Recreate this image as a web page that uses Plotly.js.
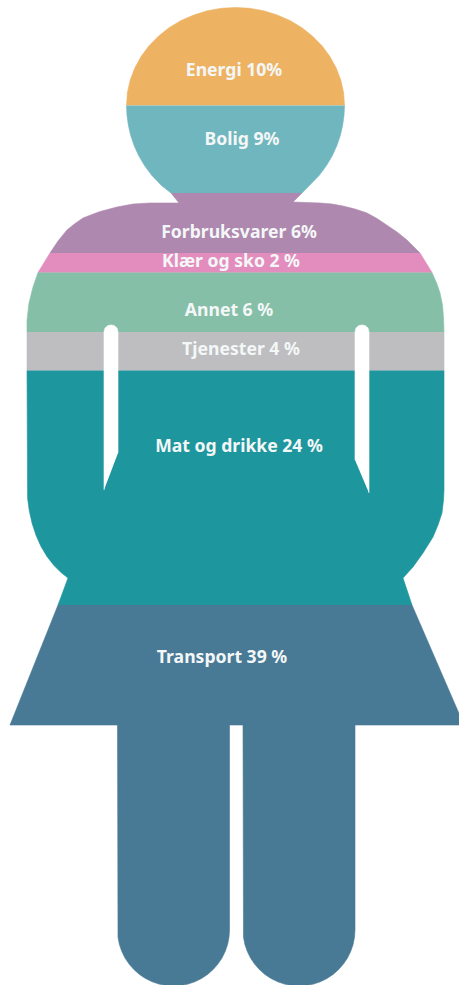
<!DOCTYPE html>
<html>
<head>
<meta charset="utf-8">
<script src="https://cdn.plot.ly/plotly-3.0.1.min.js"></script>
<style>html,body{margin:0;padding:0;background:#fff}#chart{width:459px;height:985px}</style>
</head>
<body>
<div id="chart"></div>
<script>
// Categories and labels
var categories = ["Energi","Bolig","Forbruksvarer","Klær og sko","Annet","Tjenester","Mat og drikke","Transport"];
var shares = [10,9,6,2,6,4,24,39];
var labels = ["Energi 10%","Bolig 9%","Forbruksvarer 6%","Klær og sko 2 %","Annet 6 %","Tjenester 4 %","Mat og drikke 24 %","Transport 39 %"];
var labelX = [234,242,239,231,229,241,239,222];
var labelY = [72,141,234,263,312,351,448,659];
var colors = ["#EEB263","#6FB6BE","#AE88AE","#E28DBE","#86BFA8","#BEBEC0","#1E969E","#487A96"];

// Outline of each band of the silhouette
var energiX = [126.5,127.4,130.2,134.8,141.1,149,158.4,169.1,181,193.8,207.3,221.3,235.5,249.7,263.7,277.2,290,301.9,312.6,322,329.9,336.2,340.8,343.6,344.5];
var energiY = [105.5,92.7,80.1,68,56.5,45.8,36.2,27.7,20.6,15,10.8,8.3,7.5,8.3,10.8,15,20.6,27.7,36.2,45.8,56.5,68,80.1,92.7,105.5];
var boligX = [126.5,127,128.4,130.7,134.1,138.6,144.5,151.9,161.5,171,302,309.5,319.1,326.5,332.4,336.9,340.3,342.6,344,344.5];
var boligY = [105.5,115.5,125.5,135.5,145.5,155.5,165.5,175.5,185.5,193,193,185.5,175.5,165.5,155.5,145.5,135.5,125.5,115.5,105.5];
var forbrukX = [171,179,150,133,117,100,92,83,75,67,58,50,420,414,407,397,387,377,367,355,343,332,320,293,302];
var forbrukY = [193,203,203,204,207,211.5,214.5,218,223.5,230,241,253,253,246.5,240,232,225,218.5,213,209,206,204,203,202,193];
var klaerX = [50,38,432,420];
var klaerY = [253,272.5,272.5,253];
var annetX = [38,33,29,27,27,444,443.5,442.5,440,437,432];
var annetY = [272.5,287,303,320,332,332,318,305,293,284,272.5];
var tjenesterX = [27,27,444,444];
var tjenesterY = [332,370.5,370.5,332];
var matX = [27,27,27.6,29.3,32.2,36.1,41,46.9,53.6,61,68,58,412,403,413,423,433,438,442,443.5,444,444];
var matY = [370.5,485,498.2,511.1,523.7,535.5,546.5,556.4,565.1,572.5,578,605,605,578,567,553,537,525,513,500,490,370.5];
var transportX = [58,10,117.5,117.5,118,119.4,121.8,125,129.1,133.9,139.4,145.5,152.1,159,166.2,173.5,180.8,188,194.9,201.5,207.6,213.1,217.9,222,225.2,227.6,229,229.5,229.5,243,243,243.5,244.9,247.3,250.5,254.6,259.4,264.9,271,277.6,284.5,291.7,299,306.3,313.5,320.4,327,333.1,338.6,343.4,347.5,350.7,353.1,354.5,355,355,464,412];
var transportY = [605,725,725,930,937.3,944.5,951.4,958,964.1,969.6,974.4,978.5,981.7,984.1,985.5,986,985.5,984.1,981.7,978.5,974.4,969.6,964.1,958,951.4,944.5,937.3,930,725,725,930,937.3,944.5,951.4,958,964.1,969.6,974.4,978.5,981.7,984.1,985.5,986,985.5,984.1,981.7,978.5,974.4,969.6,964.1,958,951.4,944.5,937.3,930,725,725,605];
var bandX = [energiX,boligX,forbrukX,klaerX,annetX,tjenesterX,matX,transportX];
var bandY = [energiY,boligY,forbrukY,klaerY,annetY,tjenesterY,matY,transportY];

// Gaps between the arms and the body
var gapLeftX = [104,104,105,108,111,114,117,118,118];
var gapLeftY = [490,332,328,325.5,325,325.5,328,332,453];
var gapRightX = [369,369,368,365,362,359,356,355,355];
var gapRightY = [493,332,328,325.5,325,325.5,328,332,460];

var traces = categories.map(function (name, i) {
  return {
    type: "scatter", mode: "lines", name: name,
    x: bandX[i], y: bandY[i], fill: "toself", fillcolor: colors[i],
    line: {color: colors[i], width: 0.6}, hoverinfo: "name"
  };
});
[[gapLeftX, gapLeftY], [gapRightX, gapRightY]].forEach(function (g) {
  traces.push({
    type: "scatter", mode: "lines", x: g[0], y: g[1], fill: "toself",
    fillcolor: "#FFFFFF", line: {color: "#FFFFFF", width: 0.6}, hoverinfo: "skip"
  });
});
traces.push({
  type: "scatter", mode: "text", x: labelX, y: labelY, text: labels,
  textposition: "middle center",
  textfont: {family: "'Noto Sans', 'Open Sans', sans-serif", size: 17.6, color: "#F4F7F7", weight: 700},
  hoverinfo: "skip"
});

var layout = {
  width: 459, height: 985,
  margin: {l: 0, r: 0, t: 0, b: 0},
  paper_bgcolor: "#FFFFFF", plot_bgcolor: "#FFFFFF",
  showlegend: false,
  xaxis: {range: [0, 459], visible: false, fixedrange: true},
  yaxis: {range: [985, 0], visible: false, fixedrange: true}
};
Plotly.newPlot("chart", traces, layout, {displayModeBar: false, staticPlot: true});
</script>
</body>
</html>
